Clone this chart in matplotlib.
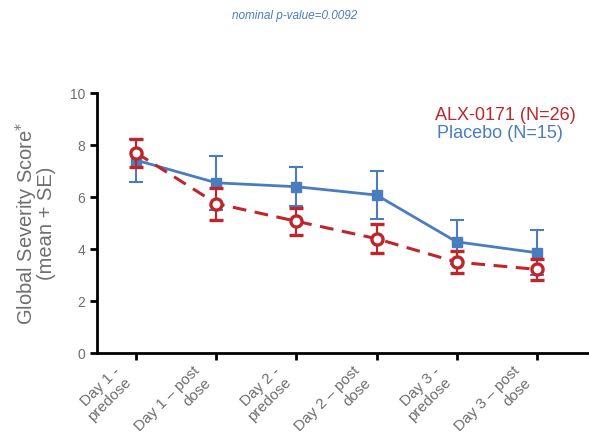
import numpy as np
import matplotlib
matplotlib.use("Agg")
from matplotlib import pyplot as plt

plt.rcParams["font.family"] = ["Liberation Sans", "DejaVu Sans"]

# Timepoints along the x axis
labels = [
    "Day 1 -\npredose",
    "Day 1 \u2013 post\ndose",
    "Day 2 -\npredose",
    "Day 2 \u2013 post\ndose",
    "Day 3 -\npredose",
    "Day 3 \u2013 post\ndose",
]

# Mean scores and standard errors
alx_mean = [7.70, 5.75, 5.07, 4.40, 3.50, 3.22]
alx_se = [0.55, 0.62, 0.52, 0.55, 0.42, 0.40]
pbo_mean = [7.42, 6.55, 6.40, 6.08, 4.28, 3.86]
pbo_se = [0.82, 1.03, 0.75, 0.93, 0.85, 0.87]

red = "#bf262c"
blue = "#4a7cc0"
grey = "#6e6e6e"

fig = plt.figure(figsize=(5.89, 4.48), dpi=100)
ax = fig.add_axes([0.165, 0.212, 0.833, 0.580])

x = np.arange(len(labels))

ax.errorbar(x, pbo_mean, yerr=pbo_se, color=blue, lw=2, marker="s",
            ms=7, mfc=blue, mec=blue, capsize=5, elinewidth=1.5,
            capthick=1.5, zorder=2)
ax.errorbar(x, alx_mean, yerr=alx_se, color=red, lw=2.2, ls=(0, (4.5, 2.8)),
            marker="o", ms=8, mfc="white", mec=red, mew=2.4, capsize=5,
            elinewidth=1.5, capthick=1.5, zorder=3)

ax.set_xlim(-0.49, 5.64)
ax.set_ylim(0, 10)
ax.set_yticks([0, 2, 4, 6, 8, 10])
ax.set_xticks(x)
ax.set_xticklabels([])
# rotated category labels, sitting a bit left of their ticks as in the original
for xi, lab in zip(x, labels):
    ax.annotate(lab, xy=(xi, 0), xycoords=("data", "axes fraction"),
                xytext=(-24, -11), textcoords="offset pixels",
                rotation=45, ha="right", va="top", rotation_mode="anchor",
                multialignment="right", color=grey, fontsize=11,
                annotation_clip=False)

ax.tick_params(axis="y", colors="black", labelcolor=grey, labelsize=10,
               width=2, length=5)
ax.tick_params(axis="x", width=2, length=5)

for side in ["top", "right"]:
    ax.spines[side].set_visible(False)
for side in ["left", "bottom"]:
    ax.spines[side].set_linewidth(2)

ax.set_ylabel("Global Severity Score$^{*}$\n(mean + SE)", color=grey,
              fontsize=14.5, labelpad=10, linespacing=0.9)

ax.text(0.688, 0.915, "ALX-0171 (N=26)", color=red, fontsize=13,
        ha="left", va="center", transform=ax.transAxes)
ax.text(0.692, 0.846, "Placebo (N=15)", color=blue, fontsize=13,
        ha="left", va="center", transform=ax.transAxes)

fig.text(0.50, 0.965, "nominal p-value=0.0092", color=blue, fontsize=8.5,
         style="italic", ha="center", va="center")

fig.savefig("out.png", dpi=100)
